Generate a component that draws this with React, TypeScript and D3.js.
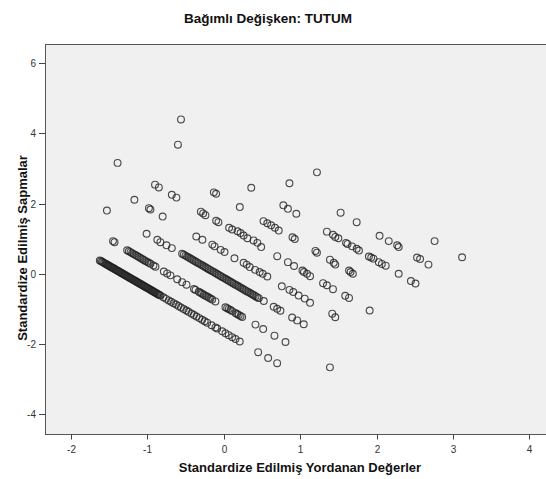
import React from 'react';
import * as d3 from 'd3';

const title = 'Bağımlı Değişken: TUTUM';
const xLabel = 'Standardize Edilmiş Yordanan Değerler';
const yLabel = 'Standardize Edilmiş Sapmalar';
const xTicks = [-2, -1, 0, 1, 2, 3, 4];
const yTicks = [-4, -2, 0, 2, 4, 6];

// [predicted, residual]
const upperPoints = [
  [-0.56, 4.40], [-0.60, 3.68], [-1.39, 3.16], [-0.90, 2.54], [-0.85, 2.46], [-1.17, 2.11],
  [-1.53, 1.80], [-0.68, 2.25], [-0.62, 2.17], [-0.98, 1.87], [-0.96, 1.83], [-0.80, 1.63],
  [-0.13, 2.32], [-0.10, 2.28], [-0.30, 1.77], [-0.27, 1.72], [-0.24, 1.67], [-0.10, 1.51],
  [-0.07, 1.47], [0.07, 1.31], [0.11, 1.26], [0.18, 1.21], [0.22, 1.16], [0.26, 1.09],
  [0.31, 1.01], [0.39, 0.95], [0.44, 0.88], [0.49, 0.76], [0.36, 2.45], [0.86, 2.58],
  [1.22, 2.89], [0.21, 1.90], [0.78, 1.95], [0.84, 1.85], [0.95, 1.71], [1.53, 1.74],
  [1.74, 1.47], [0.52, 1.50], [0.57, 1.44], [0.62, 1.38], [0.67, 1.31], [0.72, 1.23],
  [0.90, 1.04], [0.93, 0.99], [1.35, 1.20], [1.43, 1.11], [1.46, 1.05], [1.50, 1.01],
  [1.60, 0.88], [1.62, 0.85], [1.68, 0.78], [1.74, 0.71], [1.77, 0.66], [2.04, 1.08],
  [2.16, 0.93], [2.27, 0.81], [2.29, 0.76], [2.76, 0.93], [2.53, 0.46], [2.57, 0.42],
  [2.68, 0.26], [3.12, 0.47], [1.90, 0.49], [1.93, 0.46], [1.96, 0.43], [2.03, 0.33],
  [2.07, 0.28], [2.12, 0.23], [2.29, 0.00], [2.45, -0.21], [2.51, -0.28], [1.20, 0.65],
  [1.22, 0.60], [1.39, 0.40], [1.44, 0.31], [1.46, 0.26], [1.64, 0.09], [1.66, 0.05],
  [1.69, 0.00], [0.70, 0.50], [0.84, 0.33], [0.92, 0.22], [1.03, 0.09], [1.05, 0.05],
  [1.09, 0.00], [1.13, -0.07], [1.30, -0.27], [1.35, -0.33], [1.43, -0.44], [1.59, -0.63],
  [1.64, -0.69], [1.91, -1.05], [1.42, -1.14], [1.46, -1.24],
];

const bandD = [
  [-0.36, 1.06], [-0.28, 0.97], [-0.15, 0.83], [-0.12, 0.78], [-0.04, 0.68], [0.01, 0.62],
  [0.14, 0.44], [0.26, 0.31], [0.30, 0.26], [0.34, 0.19], [0.41, 0.11], [0.47, 0.05],
  [0.51, 0.00], [0.57, -0.08], [0.76, -0.36], [0.86, -0.46], [0.91, -0.52], [0.98, -0.62],
  [1.06, -0.71], [1.13, -0.83],
];

const bandC = [
  [-1.01, 1.14], [-0.87, 0.97], [-0.83, 0.90], [-0.75, 0.81], [-0.68, 0.73],
  [-0.545, 0.57], [-0.50, 0.516], [-0.458, 0.46], [-0.414, 0.405], [-0.37, 0.349],
  [-0.327, 0.295], [-0.283, 0.239], [-0.24, 0.185], [-0.196, 0.129], [-0.152, 0.074],
  [-0.109, 0.02], [-0.065, -0.036], [-0.021, -0.091], [0.022, -0.146], [0.065, -0.2],
  [0.11, -0.257], [0.153, -0.311], [0.196, -0.365], [0.241, -0.422], [0.284, -0.476],
  [0.327, -0.531], [0.372, -0.587], [0.415, -0.641], [0.458, -0.696], [0.524, -0.779],
  [0.654, -0.944], [0.699, -1.0], [0.742, -1.055], [0.895, -1.248], [0.961, -1.331],
  [1.047, -1.44], [1.39, -2.67],
  [-0.523, 0.543], [-0.48, 0.488], [-0.436, 0.432], [-0.392, 0.377], [-0.348, 0.322],
  [-0.305, 0.267], [-0.261, 0.212], [-0.218, 0.157], [-0.174, 0.101], [-0.13, 0.047],
  [-0.087, -0.008], [-0.043, -0.063], [0.0, -0.118], [0.043, -0.173], [0.088, -0.229],
  [0.131, -0.284], [0.175, -0.338], [0.218, -0.394], [0.262, -0.449], [0.305, -0.504],
  [0.35, -0.559], [0.393, -0.614], [0.436, -0.668],
];

const bandB = [
  [-1.45, 0.93], [-1.43, 0.90], [-1.265, 0.669], [-1.221, 0.614], [-1.178, 0.559],
  [-1.134, 0.504], [-1.09, 0.448], [-1.047, 0.394], [-1.003, 0.338], [-0.959, 0.283],
  [-0.894, 0.201], [-0.785, 0.063], [-0.741, 0.008], [-0.698, -0.047], [-0.61, -0.158],
  [-0.545, -0.24], [-0.488, -0.312], [-0.37, -0.461], [-0.327, -0.515], [-0.283, -0.57],
  [-0.24, -0.625], [-0.196, -0.68], [-0.152, -0.736], [-0.109, -0.79], [0.022, -0.955],
  [0.065, -1.009], [0.11, -1.066], [0.153, -1.12], [0.196, -1.175], [0.241, -1.232],
  [0.415, -1.451], [0.516, -1.579], [0.664, -1.766], [0.808, -1.948],
  [-1.243, 0.641], [-1.2, 0.586], [-1.156, 0.531], [-1.112, 0.476], [-1.068, 0.421],
  [-1.025, 0.366], [-0.981, 0.31], [-0.92, 0.234], [-0.39, -0.436], [-0.305, -0.543],
  [-0.262, -0.597], [-0.218, -0.652], [-0.174, -0.708], [0.044, -0.982], [0.088, -1.037],
  [0.175, -1.148], [0.22, -1.203],
];

const bandA = [
  [-1.623, 0.379], [-1.594, 0.342], [-1.565, 0.306], [-1.535, 0.268], [-1.509, 0.235],
  [-1.483, 0.202], [-1.457, 0.17], [-1.431, 0.137], [-1.404, 0.103], [-1.378, 0.07],
  [-1.352, 0.037], [-1.326, 0.004], [-1.3, -0.029], [-1.274, -0.062], [-1.247, -0.096],
  [-1.221, -0.129], [-1.195, -0.161], [-1.169, -0.194], [-1.143, -0.227], [-1.117, -0.26],
  [-1.09, -0.294], [-1.064, -0.327], [-1.038, -0.36], [-1.012, -0.392], [-0.986, -0.425],
  [-0.959, -0.459], [-0.933, -0.492], [-0.907, -0.525], [-0.881, -0.558], [-0.855, -0.591],
  [-0.828, -0.624], [-0.72, -0.761], [-0.658, -0.839], [-0.593, -0.921], [-0.524, -1.008],
  [-0.462, -1.086], [-0.423, -1.135], [-0.357, -1.219], [-0.283, -1.312], [-0.217, -1.396],
  [-0.109, -1.532], [-0.086, -1.561], [-0.021, -1.643], [0.022, -1.697], [0.065, -1.751],
  [0.11, -1.808], [0.153, -1.862], [0.209, -1.933], [0.45, -2.237], [0.581, -2.402],
  [0.699, -2.551],
  [-1.608, 0.36], [-1.58, 0.324], [-1.55, 0.287], [-1.522, 0.252], [-1.496, 0.218],
  [-1.47, 0.186], [-1.444, 0.154], [-1.417, 0.12], [-1.391, 0.087], [-1.365, 0.054],
  [-1.339, 0.02], [-1.313, -0.012], [-1.287, -0.046], [-1.26, -0.079], [-1.234, -0.112],
  [-1.208, -0.145], [-1.182, -0.178], [-1.156, -0.21], [-1.13, -0.244], [-1.104, -0.277],
  [-1.077, -0.31], [-1.051, -0.344], [-1.025, -0.376], [-0.999, -0.409], [-0.972, -0.442],
  [-0.946, -0.475], [-0.92, -0.508], [-0.894, -0.541], [-0.868, -0.575], [-0.842, -0.607],
  [-0.79, -0.673], [-0.755, -0.717], [-0.69, -0.8], [-0.625, -0.88], [-0.56, -0.963],
  [-0.49, -1.05], [-0.39, -1.177], [-0.32, -1.266], [-0.25, -1.354], [-0.16, -1.47],
];

const allPoints = [...upperPoints, ...bandD, ...bandC, ...bandB, ...bandA];

const App = () => {
  const width = 546;
  const height = 479;
  const left = 45, top = 44, right = 547, bottom = 434;

  const x = d3.scaleLinear().domain([-2, 4]).range([71, 529.3]);
  const y = d3.scaleLinear().domain([-4, 6]).range([414, 63.3]);

  const font = 'Arial, "Liberation Sans", sans-serif';

  return (
    <svg width={width} height={height} style={{ position: 'absolute', left: 0, top: 0 }} fontFamily={font}>
      <rect x={0} y={0} width={width} height={height} fill="#fff" />
      <text x={268} y={23} textAnchor="middle" fontSize="13.5" fontWeight="bold" fill="#111">{title}</text>

      <rect x={left + 0.5} y={top + 0.5} width={right - left} height={bottom - top} fill="#f0f0f0" stroke="#555" strokeWidth="1" />

      <g fontSize="10" fill="#333">
        {xTicks.map(t => (
          <g key={t} transform={`translate(${Math.round(x(t)) + 0.5}, ${bottom})`}>
            <line y1={0.5} y2={5.5} stroke="#444" />
            <text y={19} textAnchor="middle">{t}</text>
          </g>
        ))}
        {yTicks.map(t => (
          <g key={t} transform={`translate(${left}, ${Math.round(y(t)) + 0.5})`}>
            <line x1={0.5} x2={-6} stroke="#444" />
            <text x={-9} dy="0.35em" textAnchor="end">{t}</text>
          </g>
        ))}
      </g>

      <g fill="none" stroke="#222" strokeWidth="1.15" strokeOpacity="0.8">
        {allPoints.map((d, i) => (
          <circle key={i} cx={x(d[0])} cy={y(d[1])} r={3.4} />
        ))}
      </g>

      <text x={300} y={472} textAnchor="middle" fontSize="13" fontWeight="bold" fill="#111">{xLabel}</text>
      <text transform="translate(27, 248) rotate(-90)" textAnchor="middle" fontSize="13" fontWeight="bold" fill="#111">{yLabel}</text>
    </svg>
  );
};

export default App;
